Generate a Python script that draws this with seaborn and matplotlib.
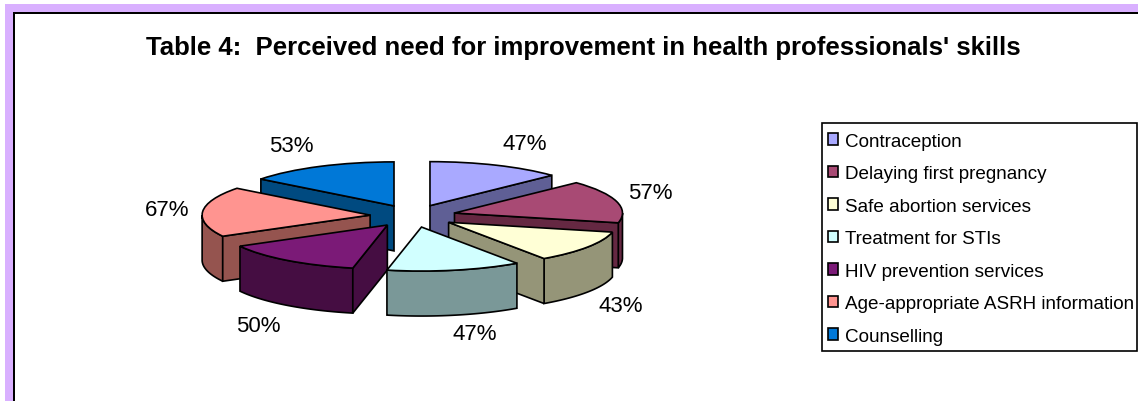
import numpy as np
import matplotlib
matplotlib.use("Agg")
import matplotlib.pyplot as plt
from matplotlib.patches import Rectangle
import seaborn as sns

sns.set_theme(style="white", font="Liberation Sans")

# --- Data ---
categories = ["Contraception", "Delaying first pregnancy", "Safe abortion services",
              "Treatment for STIs", "HIV prevention services",
              "Age-appropriate ASRH information", "Counselling"]
values = [47, 57, 43, 47, 50, 67, 53]

top_colors = ["#A9A9FF", "#A84A74", "#FFFFD6", "#D1FFFF", "#7B1A77", "#FF9490", "#0078D7"]
wall_colors = ["#5F5F95", "#652842", "#959578", "#7A9898", "#450D42", "#95544F", "#004A80"]

# --- Layout, in pixels of the 1138x402 picture ---
W, H = 1138, 402
cx, cy = 413, 217  # pie centre
rx, ry = 168, 44  # pie radius across and down the tilted disc
depth = 45 / ry  # height of the walls in y units
label_px = [(525, 144), (650, 194), (621, 307), (475, 335), (258, 327), (167, 211), (291, 147)]
draw_order = [6, 0, 1, 5, 2, 4, 3]  # back to front


def to_x(px):
    return (px - cx) / rx


def to_y(px):
    return (cy - px) / ry


fig = plt.figure(figsize=(W / 100, H / 100), dpi=100, facecolor="white")
ax = fig.add_axes([0, 0, 1, 1])

wedges, _ = ax.pie(values, startangle=90, counterclock=False, explode=[0.256] * len(values),
                   colors=top_colors, wedgeprops={"edgecolor": "black", "linewidth": 1.2})
ax.set_aspect("auto")
ax.set_xlim(to_x(0), to_x(W))
ax.set_ylim(to_y(H), to_y(0))
ax.axis("off")

# Walls under each slice, only the faces turned to the viewer
lw = 1.2
for z, i in enumerate(draw_order):
    w = wedges[i]
    x0, y0 = w.center
    wall = dict(facecolor=wall_colors[i], edgecolor="black", linewidth=lw, zorder=10 + 2 * z)
    t1, t2 = np.radians(w.theta1), np.radians(w.theta2)

    # outer rim
    t = np.linspace(t1, t2, 120)
    t = t[np.sin(t) < 0]
    if len(t) > 1:
        xs = x0 + np.cos(t)
        ys = y0 + np.sin(t)
        ax.fill(np.r_[xs, xs[::-1]], np.r_[ys, ys[::-1] - depth], **wall)

    # straight cut faces
    for angle, normal in ((t1, t1 - np.pi / 2), (t2, t2 + np.pi / 2)):
        if np.sin(normal) < -0.01:
            xe, ye = x0 + np.cos(angle), y0 + np.sin(angle)
            ax.fill([x0, xe, xe, x0], [y0, ye, ye - depth, y0 - depth], **wall)

    w.set_zorder(11 + 2 * z)

# Percent labels
for (px, py), v in zip(label_px, values):
    ax.text(to_x(px), to_y(py), f"{v}%", fontsize=16, color="black", ha="center", va="center", zorder=40)

# Purple band and black border of the worksheet frame
purple = "#D9B0FF"
fig.add_artist(Rectangle((5 / W, 0), 7.5 / W, 1 - 5 / H, transform=fig.transFigure, color=purple, lw=0))
fig.add_artist(Rectangle((5 / W, 1 - 13 / H), 1, 8 / H, transform=fig.transFigure, color=purple, lw=0))
fig.add_artist(Rectangle((12.5 / W, 0), 2 / W, 1 - 13 / H, transform=fig.transFigure, color="black", lw=0))
fig.add_artist(Rectangle((12.5 / W, 1 - 15 / H), 1, 2 / H, transform=fig.transFigure, color="black", lw=0))

fig.text(583 / W, 1 - 48 / H, "Table 4:  Perceived need for improvement in health professionals' skills",
         fontsize=18.55, fontweight="bold", color="black", ha="center", va="center")

# Legend box drawn apart so its size does not depend on the text
fig.add_artist(Rectangle((822 / W, 1 - 352 / H), 315 / W, 228 / H, transform=fig.transFigure,
                         facecolor="white", edgecolor="black", linewidth=1.2, zorder=-1))
leg = ax.legend(wedges, categories, loc="upper left", bbox_to_anchor=(821 / W, 1 - 127 / H),
                bbox_transform=fig.transFigure, borderaxespad=0, fontsize=13.6,
                frameon=False, labelcolor="black",
                handlelength=0.55, handleheight=0.55, handletextpad=0.35,
                labelspacing=0.82, borderpad=0.35)
leg.set_zorder(50)

fig.savefig("out.png", dpi=100)
